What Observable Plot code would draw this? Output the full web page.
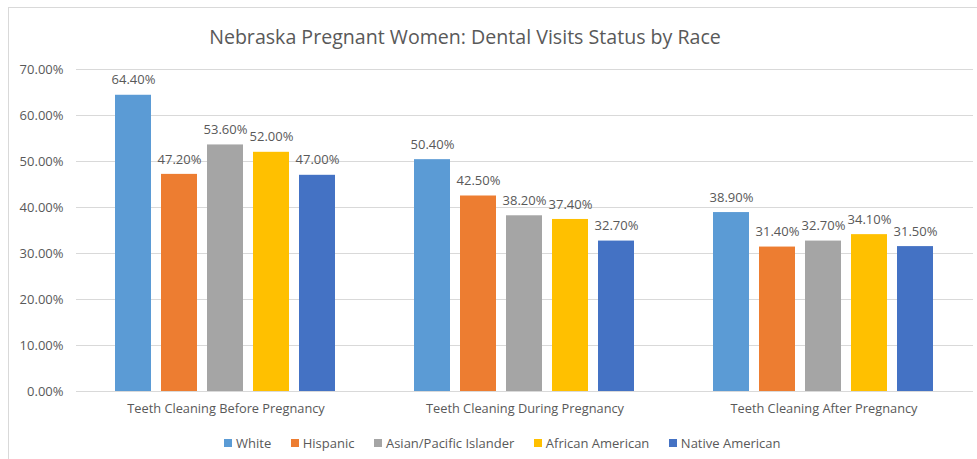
<!DOCTYPE html>
<html>
<head>
<meta charset="utf-8">
<script src="https://cdn.jsdelivr.net/npm/d3@7"></script>
<script src="https://cdn.jsdelivr.net/npm/@observablehq/plot@0.6"></script>
<style>
  html, body { margin: 0; padding: 0; background: #fff; }
  #wrap { position: relative; width: 977px; height: 459px; overflow: hidden; font-family: "Open Sans", sans-serif; }
  #frame { position: absolute; left: 8px; top: 7px; width: 980px; height: 470px; border-left: 1px solid #d9d9d9; border-top: 1px solid #d9d9d9; box-sizing: border-box; }
  #title { position: absolute; left: 0; width: 930px; top: 24px; text-align: center; font-size: 19.6px; color: #595959; line-height: 26px; }
  #chart { position: absolute; left: 0; top: 0; }
  #legend { position: absolute; top: 434px; left: 224px; display: flex; font-size: 13px; color: #595959; line-height: 18px; }
  .item { display: flex; align-items: center; margin-right: 19.5px; }
  .sw { width: 8px; height: 8px; margin-right: 4px; }
</style>
</head>
<body>
<div id="wrap">
  <div id="frame"></div>
  <div id="chart"></div>
  <div id="title">Nebraska Pregnant Women: Dental Visits Status by Race</div>
  <div id="legend"></div>
</div>
<script>
const groups = ["Teeth Cleaning Before Pregnancy", "Teeth Cleaning During Pregnancy", "Teeth Cleaning After Pregnancy"];
const races = ["White", "Hispanic", "Asian/Pacific Islander", "African American", "Native American"];
const colors = ["#5B9BD5", "#ED7D31", "#A5A5A5", "#FFC000", "#4472C4"];
const beforeValues = [64.4, 47.2, 53.6, 52.0, 47.0];
const duringValues = [50.4, 42.5, 38.2, 37.4, 32.7];
const afterValues = [38.9, 31.4, 32.7, 34.1, 31.5];
const yTicks = [0, 10, 20, 30, 40, 50, 60, 70];

const series = [beforeValues, duringValues, afterValues];
const data = [];
groups.forEach((g, gi) => races.forEach((r, ri) => data.push({group: g, race: r, value: series[gi][ri]})));

const fmt = d => d.toFixed(2) + "%";

const chart = Plot.plot({
  width: 977,
  height: 430,
  marginLeft: 76,
  marginRight: 4,
  marginTop: 69,
  marginBottom: 39,
  style: {fontFamily: "Open Sans, sans-serif", fontSize: "13px", color: "#595959", background: "transparent"},
  fx: {domain: groups, padding: 0, axis: null, label: null},
  x: {domain: races, paddingInner: 0.217, paddingOuter: 0.858, axis: null, label: null},
  y: {domain: [0, 70], axis: null, label: null},
  color: {domain: races, range: colors},
  marks: [
    Plot.gridY(yTicks, {stroke: "#d9d9d9", strokeOpacity: 1}),
    Plot.axisY(yTicks, {tickSize: 0, tickPadding: 13, tickFormat: fmt, fontSize: 13, fill: "#595959", label: null}),
    Plot.axisFx({anchor: "bottom", tickSize: 0, tickPadding: 12, fontSize: 12.8, fill: "#595959", label: null}),
    Plot.barY(data, {fx: "group", x: "race", y: "value", fill: "race"}),
    Plot.text(data, {fx: "group", x: "race", y: "value", text: d => fmt(d.value), dy: -15, fontSize: 13, fill: "#595959"})
  ]
});
document.getElementById("chart").appendChild(chart);

const legend = document.getElementById("legend");
races.forEach((r, i) => {
  const item = document.createElement("div");
  item.className = "item";
  const sw = document.createElement("span");
  sw.className = "sw";
  sw.style.background = colors[i];
  const t = document.createElement("span");
  t.textContent = r;
  item.appendChild(sw);
  item.appendChild(t);
  legend.appendChild(item);
});
</script>
</body>
</html>
